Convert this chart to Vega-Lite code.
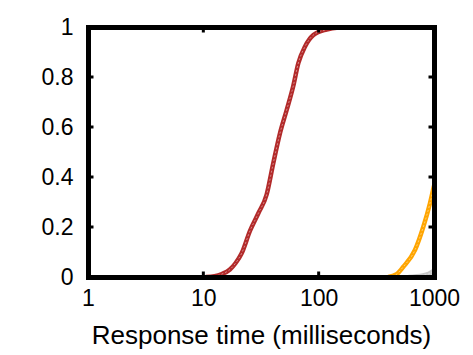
{
  "$schema": "https://vega.github.io/schema/vega-lite/v6.json",
  "autosize": "none",
  "width": 346,
  "height": 250,
  "padding": {"left": 88, "top": 27, "right": 39, "bottom": 78},
  "background": "white",
  "config": {
    "view": {"stroke": null},
    "font": "Liberation Sans"
  },
  "datasets": {
    "curves": [
      {"t": 10.5, "p": 0, "s": "a"},
      {"t": 12.5, "p": 0.003, "s": "a"},
      {"t": 14.5, "p": 0.012, "s": "a"},
      {"t": 17, "p": 0.03, "s": "a"},
      {"t": 19, "p": 0.055, "s": "a"},
      {"t": 21.5, "p": 0.095, "s": "a"},
      {"t": 25.4, "p": 0.185, "s": "a"},
      {"t": 30, "p": 0.255, "s": "a"},
      {"t": 35.4, "p": 0.33, "s": "a"},
      {"t": 40.4, "p": 0.455, "s": "a"},
      {"t": 46.2, "p": 0.575, "s": "a"},
      {"t": 52.8, "p": 0.668, "s": "a"},
      {"t": 60.3, "p": 0.765, "s": "a"},
      {"t": 66.6, "p": 0.855, "s": "a"},
      {"t": 76.2, "p": 0.922, "s": "a"},
      {"t": 90, "p": 0.968, "s": "a"},
      {"t": 117, "p": 0.99, "s": "a"},
      {"t": 150, "p": 0.998, "s": "a"},
      {"t": 200, "p": 1, "s": "a"},
      {"t": 400, "p": 0, "s": "b"},
      {"t": 470, "p": 0.01, "s": "b"},
      {"t": 542, "p": 0.041, "s": "b"},
      {"t": 684, "p": 0.108, "s": "b"},
      {"t": 807, "p": 0.2, "s": "b"},
      {"t": 923, "p": 0.295, "s": "b"},
      {"t": 1000, "p": 0.365, "s": "b"},
      {"t": 600, "p": 0, "s": "c"},
      {"t": 800, "p": 0.006, "s": "c"},
      {"t": 900, "p": 0.013, "s": "c"},
      {"t": 1000, "p": 0.025, "s": "c"}
    ],
    "xticks": [
      {"t": 10, "p": 0}, {"t": 100, "p": 0}, {"t": 10, "p": 1}, {"t": 100, "p": 1}
    ],
    "yticks": [
      {"t": 1, "p": 0.2}, {"t": 1, "p": 0.4}, {"t": 1, "p": 0.6}, {"t": 1, "p": 0.8},
      {"t": 1000, "p": 0.2}, {"t": 1000, "p": 0.4}, {"t": 1000, "p": 0.6}, {"t": 1000, "p": 0.8}
    ]
  },
  "resolve": {"axis": {"x": "independent", "y": "independent"}},
  "layer": [
    {
      "data": {"name": "curves"},
      "mark": {"type": "line", "strokeWidth": 4.5, "clip": true, "interpolate": "monotone"},
      "encoding": {
        "x": {"field": "t", "type": "quantitative", "scale": {"type": "log", "domain": [1, 1000], "nice": false},
          "axis": {"values": [1, 10, 100, 1000], "title": "Response time (milliseconds)", "labelFontSize": 23, "titleFontSize": 26, "labelFont": "Liberation Sans", "titleFont": "Liberation Sans", "titleFontWeight": "normal", "labelColor": "black", "titleColor": "black", "grid": false, "domain": true, "domainColor": "black", "domainWidth": 5, "domainCap": "square", "ticks": false, "labelPadding": 10, "titlePadding": 12, "labelFlush": false, "format": "d", "zindex": 2}},
        "y": {"field": "p", "type": "quantitative", "scale": {"domain": [0, 1], "nice": false},
          "axis": {"values": [0, 0.2, 0.4, 0.6, 0.8, 1], "title": null, "labelFontSize": 23, "labelFont": "Liberation Sans", "labelColor": "black", "grid": false, "domain": true, "domainColor": "black", "domainWidth": 5, "domainCap": "square", "ticks": false, "labelPadding": 15, "labelFlush": false, "format": "~g", "zindex": 2}},
        "color": {"field": "s", "type": "nominal", "legend": null, "scale": {"domain": ["a", "b", "c"], "range": ["#b22a2a", "#ffa500", "#c8c8c8"]}},
        "detail": {"field": "s"}
      }
    },
    {
      "data": {"name": "curves"},
      "mark": {"type": "line", "strokeWidth": 1, "strokeDash": [2, 2], "color": "white", "opacity": 0.45, "clip": true, "interpolate": "monotone"},
      "encoding": {
        "x": {"field": "t", "type": "quantitative", "scale": {"type": "log", "domain": [1, 1000], "nice": false},
          "axis": {"orient": "top", "values": [], "labels": false, "title": null, "grid": false, "domain": true, "domainColor": "black", "domainWidth": 5, "domainCap": "square", "ticks": false, "zindex": 2}},
        "y": {"field": "p", "type": "quantitative", "scale": {"domain": [0, 1], "nice": false},
          "axis": {"orient": "right", "values": [], "labels": false, "title": null, "grid": false, "domain": true, "domainColor": "black", "domainWidth": 5, "domainCap": "square", "ticks": false, "zindex": 2}},
        "detail": {"field": "s"}
      }
    },
    {
      "data": {"name": "xticks"},
      "mark": {"type": "tick", "orient": "vertical", "color": "black", "size": 11, "thickness": 3, "clip": true, "opacity": 1},
      "encoding": {
        "x": {"field": "t", "type": "quantitative", "axis": null},
        "y": {"field": "p", "type": "quantitative", "axis": null}
      }
    },
    {
      "data": {"name": "yticks"},
      "mark": {"type": "tick", "orient": "horizontal", "color": "black", "size": 11, "thickness": 3, "clip": true, "opacity": 1},
      "encoding": {
        "x": {"field": "t", "type": "quantitative", "axis": null},
        "y": {"field": "p", "type": "quantitative", "axis": null}
      }
    }
  ]
}
